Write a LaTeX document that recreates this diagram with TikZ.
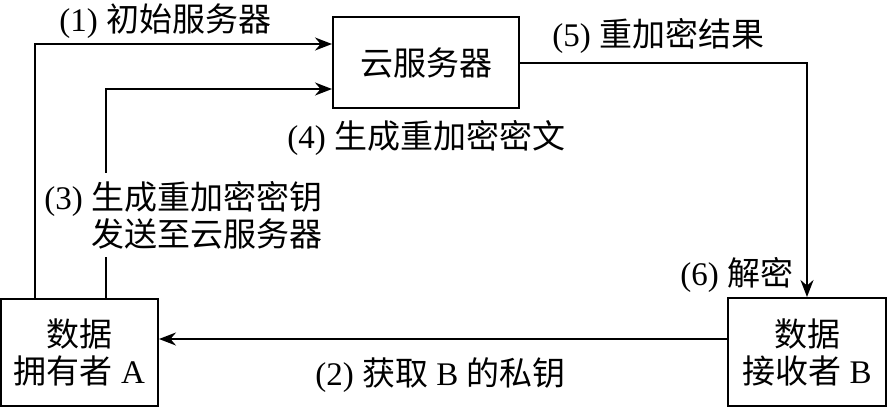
\documentclass[tikz,border=0pt]{standalone}
\usepackage{fontspec}
\setmainfont{Liberation Serif}
\newfontfamily\cjk{Noto Sans CJK SC}
\usetikzlibrary{arrows.meta}
\newcommand{\zh}[1]{{\cjk #1}}

\tikzset{
  box/.style={draw, line width=1pt, inner sep=0pt, align=center},
  arr/.style={line width=1pt, -{Stealth[length=8.5pt,width=6.5pt]}},
  lbl/.style={inner sep=0pt, anchor=west}
}

\begin{document}
\begin{tikzpicture}[x=0.5pt,y=-0.5pt,
  font=\fontsize{16.5}{18.5}\selectfont]
\useasboundingbox (0,0) rectangle (887,408);

% boxes
\node [box, minimum width=93pt, minimum height=45.5pt] (cloud) at (426,62.5) {\zh{云服务器}};
\node [box, minimum width=78.5pt, minimum height=53.5pt] (owner) at (79.5,352.5) {\zh{数据}\\\zh{拥有者} A};
\node [box, minimum width=79pt, minimum height=54pt] (receiver) at (807,352) {\zh{数据}\\\zh{接收者} B};

% connectors
\draw [arr] ([xshift=17.5pt]owner.north west) |- ([yshift=9.25pt]cloud.west);
\draw [arr] ([xshift=53pt]owner.north west) |- ([yshift=-13.25pt]cloud.west);
\draw [arr] (cloud.east) -| (receiver.north);
\draw [arr] ([yshift=6.5pt]receiver.west) -- ([yshift=6.5pt]receiver.west -| owner.east);

% labels
\node [lbl] (l1) at (59,21) {(1) \zh{初始服务器}};
\node [lbl] (l5) at (552,36) {(5) \zh{重加密结果}};
\node [lbl] (l4) at (287,138) {(4) \zh{生成重加密密文}};
\node [lbl, align=right, fill=white, inner ysep=4pt] (l3) at (44,215) {(3) \zh{生成重加密密钥}\\\zh{发送至云服务器}};
\node [lbl] (l6) at (680,275) {(6) \zh{解密}};
\node [lbl] (l2) at (315,375) {(2) \zh{获取} B \zh{的私钥}};
\end{tikzpicture}
\end{document}
